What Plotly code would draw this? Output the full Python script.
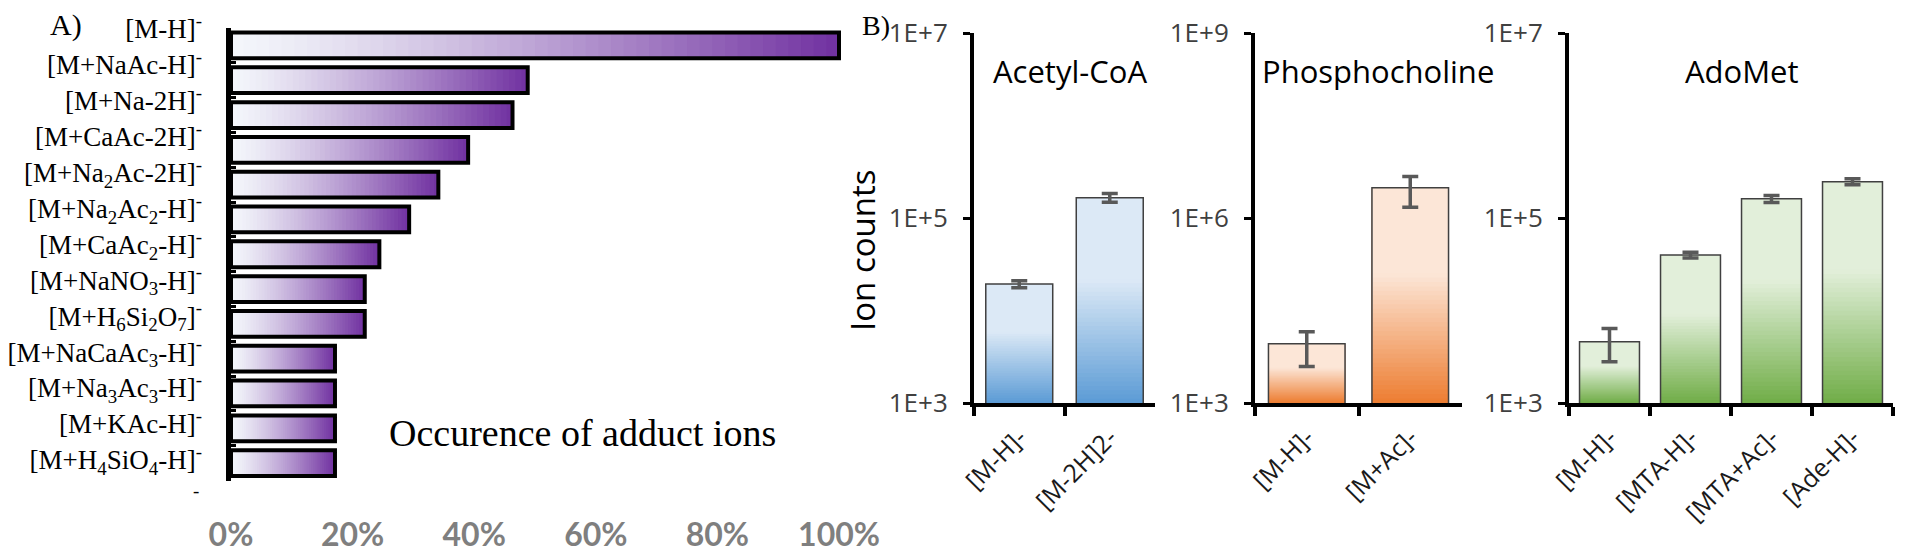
import math
import plotly.graph_objects as go

# page body keeps an 8px margin: the figure is sized so that it ends at the window edge
OFF = 8
W, H = 1920 - OFF, 557 - OFF

# ---------------- Panel A data ----------------
adduct_labels = [
    "[M-H]<sup>-</sup>",
    "[M+NaAc-H]<sup>-</sup>",
    "[M+Na-2H]<sup>-</sup>",
    "[M+CaAc-2H]<sup>-</sup>",
    "[M+Na<sub>2</sub>Ac-2H]<sup>-</sup>",
    "[M+Na<sub>2</sub>Ac<sub>2</sub>-H]<sup>-</sup>",
    "[M+CaAc<sub>2</sub>-H]<sup>-</sup>",
    "[M+NaNO<sub>3</sub>-H]<sup>-</sup>",
    "[M+H<sub>6</sub>Si<sub>2</sub>O<sub>7</sub>]<sup>-</sup>",
    "[M+NaCaAc<sub>3</sub>-H]<sup>-</sup>",
    "[M+Na<sub>3</sub>Ac<sub>3</sub>-H]<sup>-</sup>",
    "[M+KAc-H]<sup>-</sup>",
    "[M+H<sub>4</sub>SiO<sub>4</sub>-H]<sup>-</sup>",
]
adduct_pct = [100, 48.8, 46.3, 39.0, 34.1, 29.3, 24.4, 22.0, 22.0, 17.1, 17.1, 17.1, 17.1]
label_slots = list(range(len(adduct_labels)))
pct_tickvals = [0, 20, 40, 60, 80, 100]
pct_ticktext = ["0%", "20%", "40%", "60%", "80%", "100%"]

# ---------------- Panel B data ----------------
acoa_cats = ["[M-H]-", "[M-2H]2-"]
acoa_vals = [1.93e4, 1.66e5]
acoa_err = [1.7e3, 1.8e4]

pc_cats = ["[M-H]-", "[M+Ac]-"]
pc_vals = [9.1e3, 3.1e6]
pc_err = [5.2e3, 1.6e6]

ado_cats = ["[M-H]-", "[MTA-H]-", "[MTA+Ac]-", "[Ade-H]-"]
ado_vals = [4.6e3, 3.97e4, 1.61e5, 2.47e5]
ado_err = [1.8e3, 2.8e3, 1.4e4, 1.8e4]

log_ticks_4 = [1e3, 1e5, 1e7]
log_text_4 = ["1E+3", "1E+5", "1E+7"]
log_ticks_6 = [1e3, 1e6, 1e9]
log_text_6 = ["1E+3", "1E+6", "1E+9"]


def hex2rgb(h):
    h = h.lstrip("#")
    return tuple(int(h[i:i + 2], 16) for i in (0, 2, 4))


def mix(c1, c2, t):
    a, b = hex2rgb(c1), hex2rgb(c2)
    return "rgb(%d,%d,%d)" % tuple(round(a[i] + (b[i] - a[i]) * t) for i in range(3))


def px_x(p):
    return (p - OFF) / W


def px_y(p):
    return 1 - (p - OFF) / H


fig = go.Figure()

# ---------------- Panel A: gradient bars (overlapping segments) ----------------
N = 48
for k in range(N):
    t = (k + 0.5) / N
    col = mix("#f4f7fb", "#7030a0", t ** 1.25)
    fig.add_trace(go.Bar(
        y=adduct_labels, x=[v * (1 - k / N) for v in adduct_pct], base=[v * k / N for v in adduct_pct],
        orientation="h", marker=dict(color=col, line=dict(width=0)),
        xaxis="x", yaxis="y", showlegend=False, hoverinfo="skip"))
fig.add_trace(go.Bar(
    y=adduct_labels, x=adduct_pct, orientation="h",
    marker=dict(color="rgba(0,0,0,0)", line=dict(color="black", width=4)),
    xaxis="x", yaxis="y", showlegend=False, hoverinfo="skip"))
# invisible anchor trace for the category-label axis
fig.add_trace(go.Scatter(x=[0] * len(label_slots), y=label_slots, mode="markers",
                         marker=dict(opacity=0), xaxis="x", yaxis="y5",
                         showlegend=False, hoverinfo="skip"))


# ---------------- Panel B ----------------
def add_grad_bars(cats, vals, errs, ax, lo, light, dark):
    for k in range(N):
        u = (k + 0.5) / N
        d = max(0.0, min(1.0, (0.6 - u) / 0.6))
        col = mix(light, dark, d)
        bases, hs = [], []
        for v in vals:
            hi = math.log10(v)
            b0 = 10 ** (lo + (hi - lo) * k / N)
            bases.append(b0)
            hs.append(v - b0)
        fig.add_trace(go.Bar(
            x=cats, y=hs, base=bases, marker=dict(color=col, line=dict(width=0)),
            xaxis="x" + ax, yaxis="y" + ax, showlegend=False, hoverinfo="skip"))
    fig.add_trace(go.Bar(
        x=cats, y=vals,
        marker=dict(color="rgba(0,0,0,0)", line=dict(color="#404040", width=1.5)),
        error_y=dict(type="data", array=errs, color="#595959", thickness=3.5, width=8),
        xaxis="x" + ax, yaxis="y" + ax, showlegend=False, hoverinfo="skip"))


add_grad_bars(acoa_cats, acoa_vals, acoa_err, "2", 3, "#dce9f6", "#5b9bd5")
add_grad_bars(pc_cats, pc_vals, pc_err, "3", 3, "#fce6d7", "#ed7d31")
add_grad_bars(ado_cats, ado_vals, ado_err, "4", 3, "#e2efda", "#70ad47")

# ---------------- Layout ----------------
serif = "Liberation Serif"
sans = "Open Sans"

A_TOP, A_BOT = 28, 480.5
LAB0, LABSTEP = 29, 35.9

layout = dict(
    template="none",
    width=W, height=H, margin=dict(l=0, r=0, t=0, b=0, autoexpand=False),
    paper_bgcolor="white", plot_bgcolor="rgba(0,0,0,0)",
    barmode="overlay", bargap=0.26, showlegend=False,
    xaxis=dict(domain=[px_x(231), px_x(851)], range=[0, 101.97], showline=False,
               showgrid=False, zeroline=False, tickvals=pct_tickvals, ticktext=pct_ticktext,
               tickfont=dict(family="Lato", size=32, color="#7f7f7f", weight="bold"),
               ticks="", ticklabelstandoff=32, anchor="y", fixedrange=True, automargin=False),
    yaxis=dict(domain=[px_y(A_BOT), px_y(A_TOP)], type="category", categoryorder="array",
               categoryarray=adduct_labels, range=[12.5, -0.5], showline=True, linewidth=5,
               linecolor="black", ticks="inside", tickson="boundaries", ticklen=5, tickwidth=3,
               tickcolor="black", showgrid=False, zeroline=False, showticklabels=False,
               anchor="x", fixedrange=True, automargin=False),
    yaxis5=dict(domain=[px_y(A_BOT), px_y(A_TOP)], overlaying="y", anchor="x", side="left",
                range=[(A_BOT - LAB0) / LABSTEP, (A_TOP - LAB0) / LABSTEP],
                tickvals=label_slots, ticktext=adduct_labels, showline=False, ticks="",
                showgrid=False, zeroline=False, ticklabelstandoff=28,
                tickfont=dict(family=serif, size=27, color="black"),
                fixedrange=True, automargin=False),
)

b_axes = [("2", acoa_cats, 974, 1155, [3, 7], log_ticks_4, log_text_4),
          ("3", pc_cats, 1255, 1462, [3, 9], log_ticks_6, log_text_6),
          ("4", ado_cats, 1569, 1893, [3, 7], log_ticks_4, log_text_4)]
for ax, cats, x0, x1, rng, tv, tt in b_axes:
    layout["xaxis" + ax] = dict(
        domain=[px_x(x0), px_x(x1)], type="category", categoryorder="array", categoryarray=cats,
        range=[-0.5, len(cats) - 0.5], showline=True, linewidth=4, linecolor="black",
        ticks="outside", tickson="boundaries", ticklen=9, tickwidth=4, tickcolor="black",
        tickangle=-45, tickfont=dict(family=sans, size=25, color="#1a1a1a"),
        ticklabelstandoff=6, showgrid=False, zeroline=False, anchor="y" + ax,
        fixedrange=True, automargin=False)
    layout["yaxis" + ax] = dict(
        domain=[px_y(403), px_y(33)], type="log", range=rng, tickvals=tv, ticktext=tt,
        showline=True, linewidth=4, linecolor="black", ticks="outside", ticklen=7,
        tickwidth=3, tickcolor="black", showgrid=False, zeroline=False,
        tickfont=dict(family=sans, size=26, color="#404040"), ticklabelstandoff=10,
        anchor="x" + ax, fixedrange=True, automargin=False)

fig.update_layout(**layout)

ann = [
    dict(text="A)", x=px_x(66), y=px_y(25), font=dict(family=serif, size=30, color="black")),
    dict(text="B)", x=px_x(876), y=px_y(25), font=dict(family=serif, size=28, color="black")),
    dict(text="Occurence of adduct ions", x=px_x(582), y=px_y(433),
         font=dict(family=serif, size=38, color="black")),
    dict(text="<sup>-</sup>", x=px_x(196), y=px_y(490), font=dict(family=serif, size=27, color="black")),
    dict(text="Ion counts", x=px_x(862), y=px_y(250), textangle=-90,
         font=dict(family=sans, size=33, color="black")),
    dict(text="Acetyl-CoA", x=px_x(1070), y=px_y(71), font=dict(family=sans, size=31, color="black")),
    dict(text="Phosphocholine", x=px_x(1378), y=px_y(71), font=dict(family=sans, size=31, color="black")),
    dict(text="AdoMet", x=px_x(1742), y=px_y(71), font=dict(family=sans, size=31, color="black")),
]
for a in ann:
    a.update(xref="paper", yref="paper", showarrow=False, xanchor="center", yanchor="middle")
fig.update_layout(annotations=ann)

fig.write_html("out.html")
